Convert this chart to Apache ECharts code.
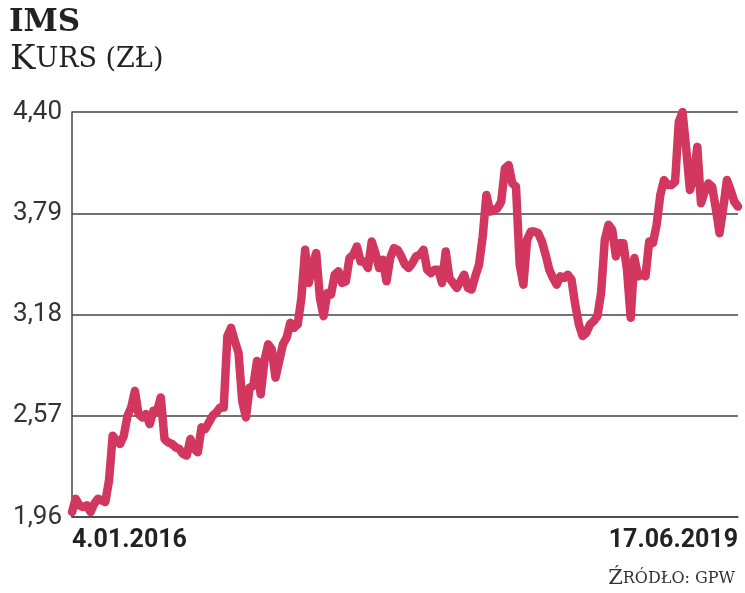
<!DOCTYPE html>
<html>
<head>
<meta charset="utf-8">
<script src="https://cdn.jsdelivr.net/npm/echarts@6/dist/echarts.min.js"></script>
<style>
  html, body { margin: 0; padding: 0; background: #fff; }
  #chart { width: 745px; height: 593px; }
</style>
</head>
<body>
<div id="chart"></div>
<script>
// kurs tygodniowy IMS
var firstDate = '4.01.2016';
var lastDate = '17.06.2019';
var yTicks = [1.96, 2.57, 3.18, 3.79, 4.40];
var prices = [
  1.99, 2.07, 2.03, 2.02, 2.03, 1.99, 2.04, 2.07, 2.06, 2.05,
  2.18, 2.45, 2.42, 2.40, 2.45, 2.57, 2.62, 2.72, 2.58, 2.56,
  2.58, 2.52, 2.60, 2.60, 2.68, 2.43, 2.41, 2.40, 2.38, 2.37,
  2.34, 2.33, 2.43, 2.37, 2.35, 2.50, 2.49, 2.53, 2.57, 2.59,
  2.62, 2.62, 3.05, 3.10, 3.02, 2.95, 2.66, 2.56, 2.74, 2.75,
  2.90, 2.70, 2.90, 3.00, 2.97, 2.80, 2.90, 3.00, 3.04, 3.13,
  3.10, 3.12, 3.28, 3.57, 3.37, 3.48, 3.55, 3.28, 3.17, 3.31,
  3.30, 3.42, 3.44, 3.37, 3.38, 3.52, 3.54, 3.59, 3.50, 3.50,
  3.46, 3.62, 3.55, 3.46, 3.51, 3.38, 3.52, 3.58, 3.57, 3.53,
  3.48, 3.46, 3.49, 3.53, 3.54, 3.57, 3.45, 3.43, 3.45, 3.45,
  3.37, 3.56, 3.40, 3.37, 3.34, 3.38, 3.42, 3.34, 3.33, 3.41,
  3.48, 3.65, 3.90, 3.80, 3.81, 3.82, 3.86, 4.06, 4.08, 3.97,
  3.95, 3.48, 3.36, 3.63, 3.68, 3.68, 3.67, 3.62, 3.54, 3.45,
  3.40, 3.36, 3.41, 3.40, 3.42, 3.39, 3.24, 3.12, 3.05, 3.07,
  3.12, 3.14, 3.17, 3.31, 3.63, 3.72, 3.69, 3.53, 3.61, 3.61,
  3.45, 3.16, 3.52, 3.41, 3.42, 3.41, 3.62, 3.61, 3.72, 3.90,
  3.99, 3.96, 3.96, 3.98, 4.34, 4.40, 4.18, 3.93, 4.00, 4.19,
  3.85, 3.92, 3.97, 3.95, 3.82, 3.67, 3.82, 3.99, 3.93, 3.86,
  3.83
];

// etykiety tygodni od pierwszej daty
var weeks = [];
var d0 = new Date(2016, 0, 4);
for (var i = 0; i < prices.length; i++) {
  var d = new Date(d0.getTime());
  d.setDate(d0.getDate() + 7 * i);
  weeks.push(d.getDate() + '.' + ('0' + (d.getMonth() + 1)).slice(-2) + '.' + d.getFullYear());
}
weeks[0] = firstDate;
weeks[weeks.length - 1] = lastDate;

var chart = echarts.init(document.getElementById('chart'));

var serif = '"DejaVu Serif", serif';
var narrow = '"Liberation Sans Narrow", "Roboto", sans-serif';

var option = {
  backgroundColor: '#fff',
  animation: false,
  title: [
    {
      text: 'IMS',
      left: 4, top: 2,
      textStyle: { fontFamily: serif, fontWeight: 'bold', fontSize: 31, color: '#222' }
    },
    {
      text: '{a|K}{b|URS (ZŁ)}',
      left: 5, top: 38,
      textStyle: {
        rich: {
          a: { fontFamily: serif, fontSize: 34, color: '#222', fontWeight: 'normal' },
          b: { fontFamily: serif, fontSize: 27, color: '#222', fontWeight: 'normal' }
        }
      }
    },
    {
      text: '{a|Ź}{b|RÓDŁO: GPW}',
      right: 5, top: 563,
      textStyle: {
        rich: {
          a: { fontFamily: serif, fontSize: 21, color: '#333', fontWeight: 'normal' },
          b: { fontFamily: serif, fontSize: 16, color: '#333', fontWeight: 'normal' }
        }
      }
    }
  ],
  grid: { left: 72, right: 7, top: 112, bottom: 76 },
  xAxis: {
    type: 'category',
    data: weeks,
    boundaryGap: false,
    axisLine: { show: true, lineStyle: { color: '#444', width: 1.5 } },
    axisTick: { show: false },
    axisLabel: {
      interval: function (idx) { return idx === 0 || idx === weeks.length - 1; },
      alignMinLabel: 'left',
      alignMaxLabel: 'right',
      margin: 11,
      fontFamily: narrow,
      fontWeight: 'bold',
      fontSize: 25,
      color: '#222'
    },
    splitLine: { show: false }
  },
  yAxis: {
    type: 'value',
    min: yTicks[0],
    max: yTicks[yTicks.length - 1],
    axisLine: { show: true, lineStyle: { color: '#444', width: 1.5 } },
    axisTick: { show: false, customValues: yTicks },
    axisLabel: {
      customValues: yTicks,
      margin: 10,
      fontFamily: narrow,
      fontSize: 26,
      color: '#333',
      formatter: function (v) { return v.toFixed(2).replace('.', ','); }
    },
    splitLine: { show: true, lineStyle: { color: '#444', width: 1.5 } }
  },
  series: [{
    type: 'line',
    data: prices,
    showSymbol: false,
    lineStyle: { color: '#d2375f', width: 8.5, cap: 'round', join: 'round' },
    z: 5
  }]
};

chart.setOption(option);
</script>
</body>
</html>
